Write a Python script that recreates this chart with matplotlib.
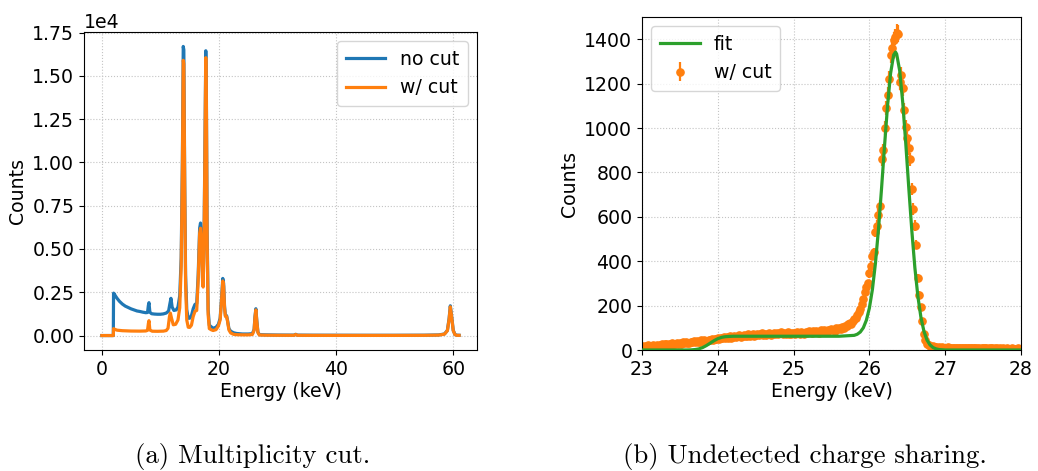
import numpy as np
import matplotlib
matplotlib.use("Agg")
import matplotlib.pyplot as plt

# ---- (a) full spectrum, with and without the multiplicity cut ----
nocut_energy = [0, 1.9, 1.96, 2.0, 2.1, 2.3, 2.6, 3.0, 3.5, 4.0, 4.5, 5.0, 5.5, 6.0, 6.5, 7.0,
                7.5, 7.8, 7.95, 8.05, 8.2, 8.5, 9.0, 9.5, 10.0, 10.5, 11.0, 11.4, 11.6, 11.8,
                12.0, 12.3, 12.7, 13.0, 13.3, 13.55, 13.75, 13.9, 14.0, 14.15, 14.3, 14.5,
                14.75, 15.0, 15.3, 15.6, 15.9, 16.2, 16.45, 16.7, 16.85, 17.0, 17.2, 17.3,
                17.45, 17.6, 17.75, 17.85, 17.98, 18.15, 18.35, 18.7, 19.0, 19.5, 19.9, 20.2,
                20.45, 20.65, 20.8, 20.95, 21.1, 21.3, 21.45, 21.7, 22.0, 22.5, 23.0, 24.0,
                25.0, 25.7, 26.0, 26.15, 26.3, 26.45, 26.65, 26.9, 28.0, 30.0, 32.8, 33.1,
                33.4, 36.0, 40.0, 45.0, 50.0, 55.0, 57.5, 58.5, 59.0, 59.3, 59.5, 59.7, 60.0,
                60.3, 60.6, 61.0]
nocut_counts = [0, 0, 0, 2450, 2420, 2300, 2150, 1980, 1820, 1700, 1620, 1540, 1480, 1420, 1390, 1350,
                1320, 1330, 1750, 1900, 1350, 1260, 1240, 1230, 1230, 1250, 1300, 1420, 1800, 2150,
                1650, 1450, 1480, 1650, 2300, 4500, 10000, 16700, 16500, 9000, 3500, 1500,
                1000, 1000, 1150, 1550, 1800, 1850, 3500, 6200, 6500, 5800, 3300, 2900,
                5500, 11000, 16450, 14000, 6000, 1500, 600, 500, 420, 480, 650, 1000,
                2200, 3300, 3000, 1700, 1150, 1150, 900, 400, 250, 160, 120, 90,
                90, 110, 350, 1100, 1550, 900, 200, 50, 40, 30, 25, 70,
                25, 20, 18, 15, 15, 20, 35, 90, 300, 1000, 1720, 1200, 300,
                60, 20, 15]

cut_energy = [0, 1.96, 2.0, 2.2, 2.6, 3.5, 5.0, 6.5, 7.5, 7.8, 7.95, 8.05, 8.2, 8.6, 9.5, 10.5,
              11.0, 11.3, 11.55, 11.7, 11.9, 12.2, 12.6, 13.0, 13.3, 13.55, 13.75, 13.9, 14.0,
              14.15, 14.3, 14.5, 14.75, 15.0, 15.3, 15.6, 15.9, 16.2, 16.45, 16.7, 16.85, 17.0,
              17.2, 17.3, 17.45, 17.6, 17.75, 17.85, 17.98, 18.15, 18.35, 18.7, 19.0, 19.5,
              19.9, 20.2, 20.45, 20.65, 20.8, 20.95, 21.1, 21.3, 21.45, 21.7, 22.0, 22.5, 23.0,
              24.0, 25.0, 25.7, 26.0, 26.15, 26.3, 26.45, 26.65, 26.9, 28.0, 30.0, 32.8, 33.1,
              33.4, 36.0, 40.0, 45.0, 50.0, 55.0, 57.5, 58.5, 59.0, 59.3, 59.5, 59.7, 60.0,
              60.3, 60.6, 61.0]
cut_counts = [0, 0, 400, 360, 310, 280, 260, 255, 265, 300, 700, 860, 320, 250, 245, 255,
              290, 420, 1100, 1300, 1000, 620, 650, 900, 1600, 4000, 9500, 15900, 15700,
              8500, 3000, 900, 480, 470, 600, 1100, 1400, 1450, 3200, 5900, 6200, 5500,
              3100, 2800, 5300, 10500, 16050, 13500, 5500, 1200, 400, 330, 290, 340,
              550, 900, 2100, 3150, 2850, 1600, 1100, 1100, 850, 320, 150, 70, 50,
              40, 40, 60, 300, 1050, 1480, 850, 170, 30, 20, 15, 12, 60,
              12, 10, 8, 8, 8, 12, 25, 80, 280, 950, 1660, 1150, 280,
              50, 12, 10]

# ---- (b) zoom on the 26.3 keV line, 0.02 keV bins from 23.00 to 28.00 keV ----
bin_start, bin_width = 23.0, 0.02
line_counts = [
    16, 12, 19, 15, 21, 17, 14, 22, 18, 20, 24, 19, 23, 26, 21, 25, 28, 23, 27, 24,    # 23.00-23.38
    30, 26, 29, 33, 27, 31, 29, 34, 31, 36, 33, 30, 37, 35, 39, 34, 41, 38, 36, 43,    # 23.40-23.78
    40, 45, 42, 39, 47, 44, 49, 46, 51, 48, 53, 50, 55, 52, 57, 54, 59, 56, 61, 55,    # 23.80-24.18
    60, 63, 58, 62, 66, 60, 64, 68, 61, 65, 70, 63, 67, 72, 64, 69, 74, 66, 70, 75,    # 24.20-24.58
    68, 72, 66, 73, 77, 69, 74, 78, 70, 75, 71, 76, 80, 72, 77, 73, 79, 74, 70, 78,    # 24.60-24.98
    75, 72, 80, 76, 73, 81, 77, 74, 82, 78, 85, 79, 76, 84, 80, 87, 83, 78, 88, 84,    # 25.00-25.38
    90, 86, 82, 92, 88, 95, 90, 86, 97, 93, 100, 96, 104, 99, 110, 106, 115, 122, 118, 130,  # 25.40-25.78
    138, 145, 158, 170, 185, 205, 228, 262, 285, 300,                                  # 25.80-25.98
    345, 380, 425, 440, 530, 560, 610, 650, 860, 900,                                  # 26.00-26.18
    1000, 1090, 1150, 1220, 1330, 1360, 1395, 1410, 1430, 1425,                        # 26.20-26.38
    1205, 1240, 1180, 1080, 1005, 955, 910, 860, 725, 635,                             # 26.40-26.58
    560, 475, 325, 250, 195, 130, 70, 45, 28, 22,                                      # 26.60-26.78
    18, 15, 16, 12, 14, 11, 13, 10, 12, 9,                                             # 26.80-26.98
    11, 10, 12, 9, 10, 8, 11, 9, 10, 8, 9, 11, 8, 10, 9, 7, 9, 8, 10, 8,                # 27.00-27.38
    7, 9, 8, 6, 9, 7, 8, 7, 6, 8, 7, 9, 6, 7, 8, 6, 7, 5, 7, 6,                         # 27.40-27.78
    6, 7, 5, 6, 7, 5, 6, 5, 7, 5, 6,                                                    # 27.80-28.00
]

# fitted line shape (low-energy step + Gaussian peak)
fit_energy = [23.0, 23.5, 23.6, 23.65, 23.7, 23.75, 23.8, 23.85, 23.9, 23.95, 24.0, 24.05,
              24.1, 24.15, 24.2, 24.3, 25.0, 25.6, 25.8, 25.84, 25.88, 25.92, 25.96, 26.0,
              26.04, 26.08, 26.12, 26.16, 26.2, 26.24, 26.28, 26.32, 26.345, 26.36, 26.4,
              26.44, 26.48, 26.52, 26.56, 26.6, 26.64, 26.68, 26.72, 26.76, 26.8, 26.84,
              26.88, 26.92, 26.96, 27.0, 28.0]
fit_counts = [0, 0, 0.2, 0.7, 2, 5, 11, 20, 31, 42, 51, 57,
              60, 61, 62, 62, 62, 62, 66, 71, 81, 100, 134, 189,
              273, 391, 544, 726, 920, 1102, 1247, 1329, 1342, 1333, 1258,
              1115, 930, 729, 537, 371, 241, 147, 84, 45, 23, 11,
              5, 2, 1, 0, 0]

plt.rcParams.update({
    "font.family": "DejaVu Sans",
    "font.size": 13.6,
})

c_blue, c_orange, c_green = "#1f77b4", "#ff7f0e", "#2ca02c"
grid_kw = dict(linestyle=":", color="#c4c4c4", linewidth=0.8)
legend_kw = dict(handlelength=2.1, handletextpad=0.75, borderpad=0.45)

fig = plt.figure(figsize=(10.38, 4.71), dpi=100)

# (a)
ax1 = fig.add_axes([0.0809, 0.2569, 0.3786, 0.6752])
ax1.plot(nocut_energy, nocut_counts, color=c_blue, lw=2.3, label="no cut")
ax1.plot(cut_energy, cut_counts, color=c_orange, lw=2.3, label="w/ cut")
ax1.set_xlim(-3.05, 64.05)
ax1.set_ylim(-835, 17535)
ax1.set_xticks([0, 20, 40, 60])
ax1.set_yticks(np.arange(0, 17501, 2500))
ax1.ticklabel_format(axis="y", style="sci", scilimits=(0, 0))
ax1.grid(True, **grid_kw)
ax1.set_xlabel("Energy (keV)", labelpad=2)
ax1.set_ylabel("Counts")
ax1.legend(loc="upper right", **legend_kw)

# (b)
energy_b = np.round(bin_start + bin_width * np.arange(len(line_counts)), 2)
counts_b = np.array(line_counts, dtype=float)
ax2 = fig.add_axes([0.6185, 0.2569, 0.3651, 0.7070])
ax2.plot(fit_energy, fit_counts, color=c_green, lw=2.3, label="fit", zorder=3)
ax2.errorbar(energy_b, counts_b, yerr=np.sqrt(counts_b), fmt="o", color=c_orange,
             ms=5.2, elinewidth=1.6, label="w/ cut", zorder=2)
ax2.set_xlim(23, 28)
ax2.set_ylim(0, 1500)
ax2.set_yticks(np.arange(0, 1401, 200))
ax2.grid(True, **grid_kw)
ax2.set_xlabel("Energy (keV)", labelpad=2)
ax2.set_ylabel("Counts")
ax2.legend(loc="upper left", **legend_kw)

# sub-captions
fig.text(0.243, 0.03, "(a) Multiplicity cut.", family="cmr10", fontsize=19.3,
         ha="center", va="center")
fig.text(0.775, 0.03, "(b) Undetected charge sharing.", family="cmr10", fontsize=19.3,
         ha="center", va="center")

fig.savefig("out.png", dpi=100)
